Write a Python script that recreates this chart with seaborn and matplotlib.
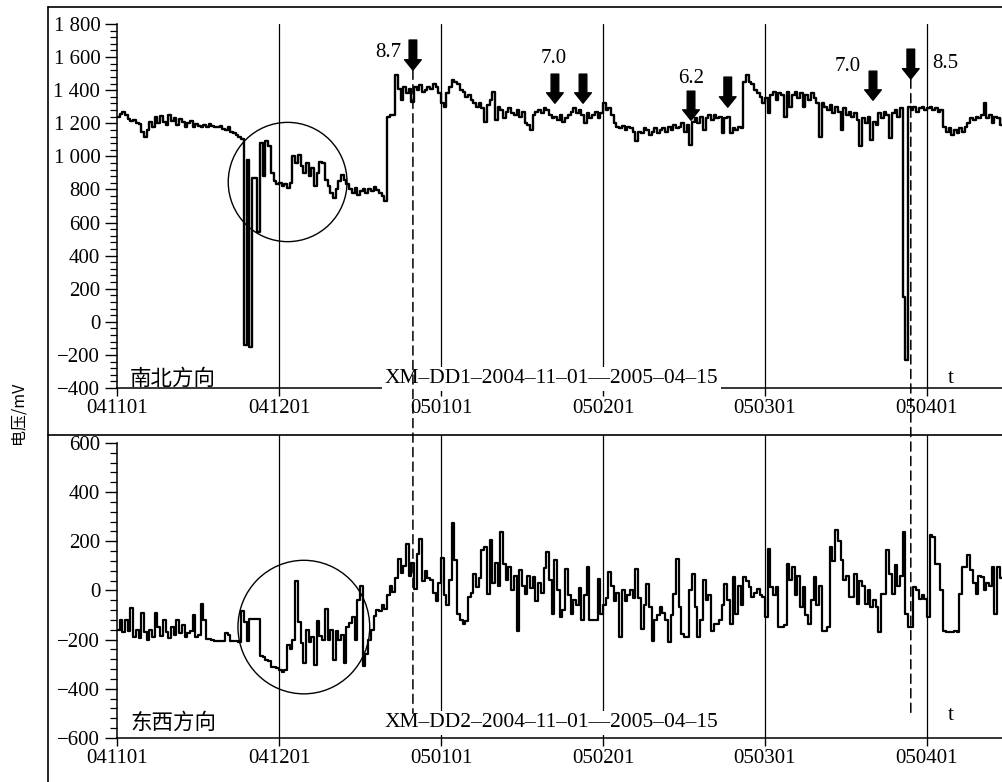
import numpy as np
import pandas as pd
import matplotlib
matplotlib.use("Agg")
import matplotlib.pyplot as plt
import seaborn as sns
from matplotlib.patches import Ellipse, ConnectionPatch
from matplotlib.lines import Line2D
from matplotlib.ticker import FixedLocator, FixedFormatter, MultipleLocator

# ---------------- data (half-day readings, days since 2004-11-01) ----------------
sample_step = 0.5
ns_mv = [
    1240, 1255, 1270, 1250, 1225, 1215, 1220, 1200, 1195, 1150, 1120, 1160, 1210, 1180, 1235, 1200, 1245, 1210, 1190, 1250,
    1215, 1230, 1190, 1225, 1210, 1175, 1200, 1215, 1180, 1195, 1185, 1175, 1190, 1180, 1195, 1185, 1180, 1175, 1185, 1165,
    1160, 1175, 1150, 1140, 1130, 1115, 1105, -140, 980, -150, 870, 870, 540, 1080, 880, 1090, 1060, 900, 850, 830,
    840, 820, 835, 810, 840, 1000, 960, 1010, 940, 900, 960, 880, 930, 820, 900, 965, 960, 860, 820, 780,
    750, 800, 850, 885, 860, 830, 800, 780, 810, 765, 790, 800, 780, 805, 790, 812, 795, 780, 760, 730,
    1240, 1250, 1250, 1490, 1410, 1340, 1420, 1380, 1410, 1330, 1420, 1400, 1430, 1390, 1400, 1420, 1410, 1440, 1420, 1380,
    1320, 1300, 1380, 1420, 1460, 1450, 1440, 1400, 1390, 1360, 1370, 1340, 1320, 1300, 1320, 1290, 1205, 1310, 1340, 1390,
    1220, 1300, 1280, 1230, 1270, 1290, 1260, 1250, 1280, 1240, 1270, 1200, 1190, 1160, 1250, 1270, 1280, 1260, 1290, 1280,
    1250, 1230, 1240, 1220, 1250, 1210, 1230, 1250, 1270, 1290, 1260, 1280, 1250, 1200, 1260, 1230, 1250, 1270, 1230, 1260,
    1320, 1280, 1290, 1250, 1200, 1180, 1170, 1185, 1160, 1180, 1170, 1150, 1090, 1150, 1140, 1170, 1160, 1130, 1150, 1170,
    1140, 1160, 1170, 1150, 1180, 1160, 1190, 1170, 1180, 1200, 1150, 1190, 1070, 1210, 1230, 1200, 1240, 1160, 1230, 1250,
    1220, 1250, 1230, 1240, 1140, 1230, 1240, 1140, 1170, 1160, 1180, 1170, 1450, 1490, 1450, 1440, 1400, 1380, 1360, 1320,
    1350, 1260, 1370, 1390, 1340, 1380, 1370, 1240, 1390, 1300, 1370, 1390, 1350, 1380, 1300, 1370, 1340, 1380, 1350, 1320,
    1120, 1320, 1300, 1280, 1310, 1260, 1300, 1270, 1160, 1290, 1250, 1270, 1240, 1260, 1220, 1060, 1230, 1200, 1240, 1100,
    1210, 1190, 1260, 1230, 1270, 1250, 1110, 1260, 1280, 1240, 1290, 150, -230, 1300, 1280, 1300, 1270, 1290, 1300, 1280,
    1290, 1300, 1280, 1290, 1270, 1280, 1180, 1150, 1170, 1130, 1160, 1140, 1170, 1150, 1180, 1200, 1230, 1220, 1240, 1230,
    1250, 1320, 1230, 1250, 1200, 1240, 1230, 1190, 1230,
]
ew_mv = [
    -160, -120, -170, -120, -165, -70, -190, -160, -195, -90, -170, -200, -160, -190, -90, -150, -185, -120, -170, -195,
    -150, -180, -120, -175, -140, -190, -175, -165, -100, -190, -180, -57, -120, -197, -197, -200, -205, -207, -207, -206,
    -175, -180, -207, -207, -207, -208, -85, -130, -205, -115, -115, -115, -115, -268, -270, -282, -285, -311, -312, -315,
    -322, -330, -325, -220, -240, -200, 38, -130, -213, -295, -160, -210, -190, -302, -125, -186, -200, -77, -200, -160,
    -281, -166, -200, -180, -295, -150, -132, -110, -200, -37, 18, -309, -260, -200, -160, -105, -80, -85, -60, -75,
    -20, 18, -5, 50, 126, 70, 100, 188, 60, 113, 4, 150, 208, 40, 80, 52, 41, -10, -41, 30,
    130, -20, -61, 41, 273, 123, -95, -120, -136, -125, -27, -10, 68, 14, 50, 163, 177, -14, 204, 30,
    110, 20, 238, 109, 41, 95, 0, 60, -163, 82, 20, -14, 60, 10, 54, -41, 30, -10, 90, 156,
    41, -95, 122, 0, -109, -80, 88, -20, -95, -40, -60, 10, -122, -20, 95, -122, -122, -120, 48, -95,
    -60, -30, 75, 20, -41, -10, -190, 0, -41, -20, 0, -30, 88, -30, -156, -60, 27, -68, -204, -122,
    -100, -68, -90, -122, -211, -100, -14, 129, -68, -177, -190, -190, 0, 68, -68, -190, -120, 41, -40, -20,
    -163, -136, -136, -120, -60, 27, -40, -136, 54, -95, 20, -60, 54, 40, 14, -27, -10, 5, -20, -27,
    -109, 170, 14, -20, 14, -150, -150, -140, 109, 41, 95, -20, 60, -68, 14, -100, -136, -40, 54, -60,
    20, -163, -163, -150, 177, 120, 247, 200, 122, 41, 60, -27, -27, 68, -54, 40, 20, -54, 0, -68,
    -40, -68, -170, -14, -14, 163, 68, -14, 102, 20, 60, 238, -95, -150, -150, 14, 0, -34, -20, -34,
    -109, 224, 218, 109, 109, 0, -163, -170, -170, -170, -165, -170, -14, 95, 95, 143, 82, 30, -14, 60,
    54, 0, 30, 20, 95, -95, 95, 50, 60,
]

month_ticks = [0, 30, 60, 90, 120, 150]
month_labels = ["041101", "041201", "050101", "050201", "050301", "050401"]
ns_yticks = [-400, -200, 0, 200, 400, 600, 800, 1000, 1200, 1400, 1600, 1800]
ns_ylabels = ["\u2212400", "\u2212200", "0", "200", "400", "600", "800",
              "1 000", "1 200", "1 400", "1 600", "1 800"]
ew_yticks = [-600, -400, -200, 0, 200, 400, 600]
ew_ylabels = ["\u2212600", "\u2212400", "\u2212200", "0", "200", "400", "600"]

# earthquake markers: day, arrow top, arrow tip (mV, upper panel)
quake_days = [54.8, 81.1, 86.3, 106.3, 113.1, 140.0, 147.0]
quake_top = [1703, 1497, 1497, 1394, 1479, 1515, 1648]
quake_tip = [1521, 1321, 1321, 1218, 1297, 1339, 1467]
mag_labels = ["8.7", "7.0", "6.2", "7.0", "8.5"]
mag_x = [50.2, 80.9, 106.3, 135.4, 153.3]
mag_y = [1630, 1594, 1473, 1545, 1564]
dashed_days = [54.8, 147.0]
dashed_tips = [1521, 1467]

# ---------------- style ----------------
sns.set_theme(style="ticks")
plt.rcParams["font.family"] = ["Liberation Serif", "Noto Sans CJK SC", "DejaVu Sans"]
plt.rcParams["axes.edgecolor"] = "black"
plt.rcParams["text.color"] = "black"
plt.rcParams["xtick.color"] = "black"
plt.rcParams["ytick.color"] = "black"
plt.rcParams["axes.linewidth"] = 1.1

W, H = 1003, 782
fig = plt.figure(figsize=(W / 100, H / 100), dpi=100)
ax1 = fig.add_axes([117 / W, 1 - 388 / H, (W - 117) / W, (388 - 24) / H])
ax2 = fig.add_axes([117 / W, 1 - 738 / H, (W - 117) / W, (738 - 435) / H])

days = np.arange(len(ns_mv)) * sample_step
df_ns = pd.DataFrame({"day": days, "mV": ns_mv})
df_ew = pd.DataFrame({"day": np.arange(len(ew_mv)) * sample_step, "mV": ew_mv})

sns.lineplot(data=df_ns, x="day", y="mV", ax=ax1, color="black", lw=1.7,
             drawstyle="steps-post", estimator=None, zorder=5)
sns.lineplot(data=df_ew, x="day", y="mV", ax=ax2, color="black", lw=1.6,
             drawstyle="steps-post", estimator=None, zorder=5)

xmax = (W - 117) / 5.4
for ax, yt, yl, ylim in [(ax1, ns_yticks, ns_ylabels, (-400, 1800)),
                         (ax2, ew_yticks, ew_ylabels, (-600, 632))]:
    ax.set_xlim(0, xmax)
    ax.set_ylim(*ylim)
    ax.set_xlabel("")
    ax.set_ylabel("")
    ax.spines["top"].set_visible(False)
    ax.spines["right"].set_visible(False)
    ax.yaxis.set_major_locator(FixedLocator(yt))
    ax.yaxis.set_major_formatter(FixedFormatter(yl))
    ax.yaxis.set_minor_locator(MultipleLocator(40))
    ax.xaxis.set_major_locator(FixedLocator(month_ticks))
    ax.xaxis.set_major_formatter(FixedFormatter(month_labels))
    ax.tick_params(axis="y", which="major", direction="out", length=9, width=1.0,
                   labelsize=15, pad=3)
    ax.tick_params(axis="y", which="minor", direction="out", length=5, width=0.9)
    ax.tick_params(axis="x", which="major", direction="out", length=6, width=1.0,
                   labelsize=15, pad=2)
    for m in month_ticks[1:]:
        ax.axvline(m, color="black", lw=0.9, zorder=1)
    ax.patch.set_alpha(0)
ax2.spines["left"].set_bounds(-600, 600)

# annotation circles
ax1.add_patch(Ellipse((31.6, 845), 22.0, 721, fill=False, ec="black", lw=1.0, zorder=4))
ax2.add_patch(Ellipse((34.6, -149), 24.4, 543, fill=False, ec="black", lw=1.0, zorder=4))

# panel texts
box = dict(facecolor="white", edgecolor="none", pad=2)
ax1.text(2.4, -345, "南北方向", fontsize=15.5, va="center", ha="left",
         family=["Noto Sans CJK SC"], zorder=6)
ax1.text(49.6, -345, "XM\u2013DD1\u20132004\u201311\u201301\u20142005\u201304\u201315",
         fontsize=15.5, va="center", ha="left", bbox=box, zorder=3)
ax1.text(153.9, -345, "t", fontsize=15.5, va="center", ha="left", zorder=6)
ax2.text(2.4, -539, "东西方向", fontsize=15.5, va="center", ha="left",
         family=["Noto Sans CJK SC"], zorder=6)
ax2.text(49.6, -539, "XM\u2013DD2\u20132004\u201311\u201301\u20142005\u201304\u201315",
         fontsize=15.5, va="center", ha="left", bbox=box, zorder=3)
ax2.text(153.9, -510, "t", fontsize=15.5, va="center", ha="left", zorder=6)

# earthquake arrows
for d, y0, y1 in zip(quake_days, quake_top, quake_tip):
    ax1.annotate("", xy=(d, y1), xytext=(d, y0),
                 arrowprops=dict(arrowstyle="simple,head_width=1.2,head_length=0.75,tail_width=0.55",
                                 color="black", shrinkA=0, shrinkB=0, mutation_scale=10),
                 zorder=7)
for lab, x, y in zip(mag_labels, mag_x, mag_y):
    ax1.text(x, y, lab, fontsize=15, ha="center", va="center")

# dashed lines linking the two panels
for d, tip in zip(dashed_days, dashed_tips):
    con = ConnectionPatch(xyA=(d, tip), coordsA=ax1.transData,
                          xyB=(d, -500), coordsB=ax2.transData,
                          color="black", lw=1.1, linestyle=(0, (6, 3.5)))
    fig.add_artist(con)

# outer frame and separator
fx = 48 / W
fig.add_artist(Line2D([fx, fx], [0, 1 - 7 / H], color="black", lw=1.2, transform=fig.transFigure))
fig.add_artist(Line2D([fx, 1], [1 - 7 / H, 1 - 7 / H], color="black", lw=1.2, transform=fig.transFigure))
fig.add_artist(Line2D([fx, 1], [1 - 435 / H, 1 - 435 / H], color="black", lw=1.2, transform=fig.transFigure))

fig.text(18 / W, 1 - 413 / H, "电压/mV", rotation=90, ha="center", va="center",
         fontsize=11.5, family=["Noto Sans CJK SC", "Liberation Serif"])

fig.savefig("out.png", dpi=100)
